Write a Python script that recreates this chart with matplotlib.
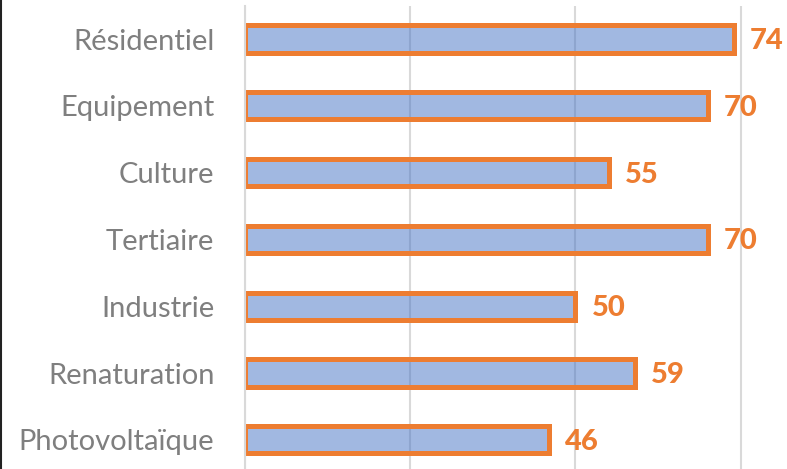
import matplotlib
matplotlib.use("Agg")
import matplotlib.pyplot as plt
from matplotlib.lines import Line2D

categories = ["Résidentiel", "Equipement", "Culture", "Tertiaire", "Industrie", "Renaturation", "Photovoltaïque"]
values = [74, 70, 55, 70, 50, 59, 46]
grid_ticks = [0, 25, 50, 75]

plt.rcParams['font.family'] = ['Lato', 'DejaVu Sans']

fig = plt.figure(figsize=(7.87, 4.69), dpi=100)
ax = fig.add_axes([245/787, -4.2/469, 1 - 245/787, 467.6/469])

n = len(categories)
ypos = list(range(n))
ax.barh(ypos, values, height=0.41, color=(0x44/255, 0x72/255, 0xC4/255, 0.5),
        edgecolor="#ED7D31", linewidth=3.6, zorder=2)
ax.set_xlim(0, 82)
ax.set_ylim(n - 0.5, -0.5)
ax.set_xticks(grid_ticks)
ax.set_xticklabels([])
ax.xaxis.grid(True, color="#D9D9D9", linewidth=1.5, zorder=1)
ax.set_axisbelow(True)
ax.set_yticks(ypos)
ax.set_yticklabels(categories, fontsize=21, color="#7F7F7F")
ax.tick_params(axis='both', length=0)
ax.tick_params(axis='y', pad=22)
for s in ["top", "right", "bottom"]:
    ax.spines[s].set_visible(False)
ax.spines["left"].set_color("#D9D9D9")
ax.spines["left"].set_linewidth(1.5)

for y, v in zip(ypos, values):
    ax.annotate(str(v), (v, y), xytext=(11.5, -1.5), textcoords="offset points",
                ha="left", va="center", fontsize=21, fontweight="black", color="#ED7D31")

fig.add_artist(Line2D([0.001, 0.001], [0, 1], transform=fig.transFigure, color="#222222", linewidth=1.5))

fig.savefig("out.png", dpi=100)
